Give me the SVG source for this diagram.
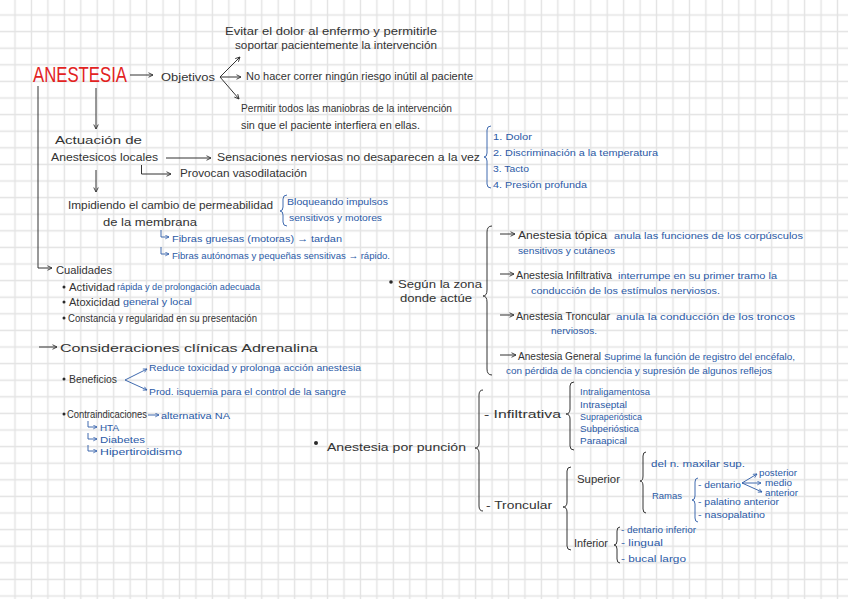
<svg xmlns="http://www.w3.org/2000/svg" width="848" height="599" viewBox="0 0 848 599">
<defs>
<pattern id="grid" x="6.775" y="6.7" width="16.45" height="16.6" patternUnits="userSpaceOnUse">
<path d="M8.225 0V16.6M0 8.3H16.45" stroke="#e3e3e3" stroke-width="1.4" fill="none"/>
</pattern>
<marker id="ah" viewBox="0 0 8 8" refX="7" refY="4" markerWidth="6" markerHeight="6" markerUnits="userSpaceOnUse" orient="auto">
<path d="M1 1L7 4L1 7" fill="none" stroke="#333" stroke-width="1.2"/>
</marker>
<marker id="ahb" viewBox="0 0 8 8" refX="7" refY="4" markerWidth="5" markerHeight="5" markerUnits="userSpaceOnUse" orient="auto">
<path d="M1 1L7 4L1 7" fill="none" stroke="#2b5aa6" stroke-width="1.2"/>
</marker>
</defs>
<style>
text{font-family:"Liberation Sans","DejaVu Sans",sans-serif;}
.k{fill:#333333;font-size:10px;}
.b{fill:#2b5aa6;font-size:9.5px;}
.r{fill:#e2231f;font-size:22px;}
.ln{stroke:#333;stroke-width:1;fill:none;}
.lb{stroke:#2b5aa6;stroke-width:0.9;fill:none;}
.br{stroke:#333;stroke-width:1;fill:none;}
.dot{fill:#2a2a2a;}
</style>
<rect width="848" height="599" fill="#ffffff"/>
<rect width="848" height="599" fill="url(#grid)"/>

<g id="connectors">
<line class="ln" x1="130" y1="75" x2="153" y2="75" marker-end="url(#ah)"/>
<line class="ln" x1="220" y1="77" x2="240" y2="57" marker-end="url(#ah)"/>
<line class="ln" x1="220" y1="77" x2="241" y2="77" marker-end="url(#ah)"/>
<line class="ln" x1="220" y1="77" x2="239" y2="99" marker-end="url(#ah)"/>
<path class="ln" d="M38 86V268H52" marker-end="url(#ah)"/>
<line class="ln" x1="96" y1="88" x2="96" y2="129" marker-end="url(#ah)"/>
<line class="ln" x1="166" y1="158" x2="211" y2="158" marker-end="url(#ah)"/>
<path class="ln" d="M141.5 165V174H171" marker-end="url(#ah)"/>
<line class="ln" x1="96" y1="170" x2="96" y2="192" marker-end="url(#ah)"/>
<path class="lb" d="M161 230V237H169" marker-end="url(#ahb)"/>
<path class="lb" d="M161 247V254H169" marker-end="url(#ahb)"/>
<line class="ln" x1="39" y1="347" x2="57" y2="347" marker-end="url(#ah)"/>
<line class="lb" x1="125" y1="380" x2="147" y2="369" marker-end="url(#ahb)"/>
<line class="lb" x1="125" y1="380" x2="147" y2="390" marker-end="url(#ahb)"/>
<line class="lb" x1="148" y1="415" x2="159" y2="415" marker-end="url(#ahb)"/>
<path class="lb" d="M88 421V427H97" marker-end="url(#ahb)"/>
<path class="lb" d="M88 433V439H97" marker-end="url(#ahb)"/>
<path class="lb" d="M88 445V451H97" marker-end="url(#ahb)"/>
<line class="ln" x1="500" y1="234" x2="515" y2="234" marker-end="url(#ah)"/>
<line class="ln" x1="500" y1="274" x2="514" y2="274" marker-end="url(#ah)"/>
<line class="ln" x1="500" y1="315" x2="514" y2="315" marker-end="url(#ah)"/>
<line class="ln" x1="500" y1="355" x2="516" y2="355" marker-end="url(#ah)"/>
<line class="lb" x1="742" y1="483" x2="757" y2="474" marker-end="url(#ahb)"/>
<line class="lb" x1="742" y1="483" x2="761" y2="483" marker-end="url(#ahb)"/>
<line class="lb" x1="742" y1="483" x2="762" y2="492" marker-end="url(#ahb)"/>
<path class="lb" d="M287 195Q283 195 283 199V207Q283 211 280 211Q283 211 283 215V222Q283 226 287 226"/>
<path class="lb" d="M491 126Q487 126 487 130V153Q487 157 484 157Q487 157 487 161V184Q487 188 491 188"/>
<path class="br" d="M492 226Q487 226 487 232V290Q487 296 483 296Q487 296 487 302V369Q487 375 492 375"/>
<path class="br" d="M483 390Q479 390 479 395V443Q479 448 475 448Q479 448 479 453V506Q479 511 483 511"/>
<path class="br" d="M574 382Q570 382 570 386V409Q570 414 566 414Q570 414 570 419V446Q570 450 574 450"/>
<path class="br" d="M571 467Q567 467 567 471V502Q567 507 563 507Q567 507 567 512V546Q567 550 571 550"/>
<path class="br" d="M646 452Q643 452 643 456V476Q643 481 640 481Q643 481 643 486V509Q643 513 646 513"/>
<path class="lb" d="M698 478Q695 478 695 482V496Q695 500 692 500Q695 500 695 504V518Q695 522 698 522"/>
<path class="br" d="M620 527Q617 527 617 531V541Q617 545 614 545Q617 545 617 549V559Q617 563 620 563"/>
</g>

<g id="anestesia"><text class="r" x="33" y="82" textLength="94" lengthAdjust="spacingAndGlyphs">ANESTESIA</text></g>

<g id="objetivos">
<text class="k" x="161" y="81" font-size="11" textLength="54" lengthAdjust="spacingAndGlyphs">Objetivos</text>
<text class="k" x="225" y="35" textLength="212" lengthAdjust="spacingAndGlyphs">Evitar el dolor al enfermo y permitirle</text>
<text class="k" x="235" y="49" textLength="202" lengthAdjust="spacingAndGlyphs">soportar pacientemente la intervención</text>
<text class="k" x="246" y="80" textLength="227" lengthAdjust="spacingAndGlyphs">No hacer correr ningún riesgo inútil al paciente</text>
<text class="k" x="241" y="112" textLength="211" lengthAdjust="spacingAndGlyphs">Permitir todos las maniobras de la intervención</text>
<text class="k" x="241" y="129" textLength="179" lengthAdjust="spacingAndGlyphs">sin que el paciente interfiera en ellas.</text>
</g>

<g id="actuacion">
<text class="k" x="55" y="144" font-size="12" textLength="87" lengthAdjust="spacingAndGlyphs">Actuación de</text>
<text class="k" x="51" y="161" font-size="11" textLength="107" lengthAdjust="spacingAndGlyphs">Anestesicos locales</text>
<text class="k" x="217" y="161" font-size="11" textLength="263" lengthAdjust="spacingAndGlyphs">Sensaciones nerviosas no desaparecen a la vez</text>
<text class="k" x="180" y="177" font-size="11" textLength="127" lengthAdjust="spacingAndGlyphs">Provocan vasodilatación</text>
<text class="b" x="493" y="140" font-size="11" textLength="39" lengthAdjust="spacingAndGlyphs">1. Dolor</text>
<text class="b" x="493" y="156" font-size="11" textLength="165" lengthAdjust="spacingAndGlyphs">2. Discriminación a la temperatura</text>
<text class="b" x="493" y="172" font-size="11" textLength="36" lengthAdjust="spacingAndGlyphs">3. Tacto</text>
<text class="b" x="493" y="188" font-size="11" textLength="94" lengthAdjust="spacingAndGlyphs">4. Presión profunda</text>
</g>

<g id="impidiendo">
<text class="k" x="68" y="209" font-size="12" textLength="205" lengthAdjust="spacingAndGlyphs">Impidiendo el cambio de permeabilidad</text>
<text class="k" x="103" y="226" font-size="12" textLength="94" lengthAdjust="spacingAndGlyphs">de la membrana</text>
<text class="b" x="287" y="205" textLength="101" lengthAdjust="spacingAndGlyphs">Bloqueando impulsos</text>
<text class="b" x="289" y="221" textLength="93" lengthAdjust="spacingAndGlyphs">sensitivos y motores</text>
<text class="b" x="172" y="242" textLength="170" lengthAdjust="spacingAndGlyphs">Fibras gruesas (motoras) → tardan</text>
<text class="b" x="172" y="259" textLength="218" lengthAdjust="spacingAndGlyphs">Fibras autónomas y pequeñas sensitivas → rápido.</text>
</g>

<g id="cualidades">
<text class="k" x="56" y="274" font-size="11" textLength="56" lengthAdjust="spacingAndGlyphs">Cualidades</text>
<circle class="dot" cx="64" cy="287" r="1.5"/>
<text class="k" x="69" y="291" textLength="46" lengthAdjust="spacingAndGlyphs">Actividad</text>
<text class="b" x="117" y="290" font-size="8.5" textLength="143" lengthAdjust="spacingAndGlyphs">rápida y de prolongación adecuada</text>
<circle class="dot" cx="64" cy="302" r="1.5"/>
<text class="k" x="69" y="306" textLength="51" lengthAdjust="spacingAndGlyphs">Atoxicidad</text>
<text class="b" x="123" y="305" font-size="8.5" textLength="69" lengthAdjust="spacingAndGlyphs">general y local</text>
<circle class="dot" cx="64" cy="318" r="1.5"/>
<text class="k" x="68" y="322" font-size="9" textLength="189" lengthAdjust="spacingAndGlyphs">Constancia y regularidad en su presentación</text>
</g>

<g id="consideraciones">
<text class="k" x="60" y="352" font-size="15" textLength="258" lengthAdjust="spacingAndGlyphs">Consideraciones clínicas Adrenalina</text>
<circle class="dot" cx="64" cy="379" r="1.5"/>
<text class="k" x="69" y="383" font-size="9" textLength="48" lengthAdjust="spacingAndGlyphs">Beneficios</text>
<text class="b" x="149" y="371" textLength="212" lengthAdjust="spacingAndGlyphs">Reduce toxicidad y prolonga acción anestesia</text>
<text class="b" x="149" y="395" textLength="197" lengthAdjust="spacingAndGlyphs">Prod. isquemia para el control de la sangre</text>
<circle class="dot" cx="64" cy="414" r="1.5"/>
<text class="k" x="67" y="418" font-size="9" textLength="80" lengthAdjust="spacingAndGlyphs">Contraindicaciones</text>
<text class="b" x="161" y="419" font-size="11" textLength="69" lengthAdjust="spacingAndGlyphs">alternativa NA</text>
<text class="b" x="100" y="431" textLength="19" lengthAdjust="spacingAndGlyphs">HTA</text>
<text class="b" x="100" y="443" textLength="45" lengthAdjust="spacingAndGlyphs">Diabetes</text>
<text class="b" x="100" y="455" textLength="82" lengthAdjust="spacingAndGlyphs">Hipertiroidismo</text>
</g>

<g id="segun-zona">
<circle class="dot" cx="391" cy="282" r="1.8"/>
<text class="k" x="398" y="288" font-size="12" textLength="84" lengthAdjust="spacingAndGlyphs">Según la zona</text>
<text class="k" x="400" y="302" font-size="12" textLength="72" lengthAdjust="spacingAndGlyphs">donde actúe</text>
<text class="k" x="518" y="239" font-size="11" textLength="89" lengthAdjust="spacingAndGlyphs">Anestesia tópica</text>
<text class="b" x="614" y="239" textLength="189" lengthAdjust="spacingAndGlyphs">anula las funciones de los corpúsculos</text>
<text class="b" x="518" y="254" textLength="97" lengthAdjust="spacingAndGlyphs">sensitivos y cutáneos</text>
<text class="k" x="516" y="279" font-size="11" textLength="96" lengthAdjust="spacingAndGlyphs">Anestesia Infiltrativa</text>
<text class="b" x="618" y="279" textLength="159" lengthAdjust="spacingAndGlyphs">interrumpe en su primer tramo la</text>
<text class="b" x="531" y="294" textLength="189" lengthAdjust="spacingAndGlyphs">conducción de los estímulos nerviosos.</text>
<text class="k" x="516" y="320" font-size="11" textLength="94" lengthAdjust="spacingAndGlyphs">Anestesia Troncular</text>
<text class="b" x="616" y="320" textLength="179" lengthAdjust="spacingAndGlyphs">anula la conducción de los troncos</text>
<text class="b" x="551" y="334" textLength="46" lengthAdjust="spacingAndGlyphs">nerviosos.</text>
<text class="k" x="518" y="360" font-size="11" textLength="83" lengthAdjust="spacingAndGlyphs">Anestesia General</text>
<text class="b" x="604" y="360" textLength="191" lengthAdjust="spacingAndGlyphs">Suprime la función de registro del encéfalo,</text>
<text class="b" x="506" y="374" textLength="266" lengthAdjust="spacingAndGlyphs">con pérdida de la conciencia y supresión de algunos reflejos</text>
</g>

<g id="puncion">
<circle class="dot" cx="316" cy="443" r="2"/>
<text class="k" x="327" y="451" font-size="13" textLength="139" lengthAdjust="spacingAndGlyphs">Anestesia por punción</text>
<text class="k" x="484" y="418" font-size="13" textLength="77" lengthAdjust="spacingAndGlyphs">- Infiltrativa</text>
<text class="b" x="580" y="395" font-size="10" textLength="70" lengthAdjust="spacingAndGlyphs">Intraligamentosa</text>
<text class="b" x="580" y="408" font-size="10" textLength="47" lengthAdjust="spacingAndGlyphs">Intraseptal</text>
<text class="b" x="580" y="420" font-size="10" textLength="62" lengthAdjust="spacingAndGlyphs">Supraperióstica</text>
<text class="b" x="580" y="432" font-size="10" textLength="59" lengthAdjust="spacingAndGlyphs">Subperióstica</text>
<text class="b" x="580" y="444" font-size="10" textLength="47" lengthAdjust="spacingAndGlyphs">Paraapical</text>
<text class="k" x="486" y="509" font-size="13" textLength="66" lengthAdjust="spacingAndGlyphs">- Troncular</text>
<text class="k" x="577" y="483" font-size="12" textLength="43" lengthAdjust="spacingAndGlyphs">Superior</text>
<text class="b" x="651" y="467" font-size="11" textLength="94" lengthAdjust="spacingAndGlyphs">del n. maxilar sup.</text>
<text class="b" x="652" y="499" font-size="10" textLength="30" lengthAdjust="spacingAndGlyphs">Ramas</text>
<text class="b" x="698" y="488" textLength="43" lengthAdjust="spacingAndGlyphs">- dentario</text>
<text class="b" x="759" y="476" font-size="6.5" textLength="38" lengthAdjust="spacingAndGlyphs">posterior</text>
<text class="b" x="765" y="486" font-size="6.5" textLength="27" lengthAdjust="spacingAndGlyphs">medio</text>
<text class="b" x="765" y="496" font-size="6.5" textLength="33" lengthAdjust="spacingAndGlyphs">anterior</text>
<text class="b" x="698" y="505" textLength="81" lengthAdjust="spacingAndGlyphs">- palatino anterior</text>
<text class="b" x="698" y="518" textLength="67" lengthAdjust="spacingAndGlyphs">- nasopalatino</text>
<text class="k" x="574" y="547" font-size="12" textLength="34" lengthAdjust="spacingAndGlyphs">Inferior</text>
<text class="b" x="621" y="533" textLength="75" lengthAdjust="spacingAndGlyphs">- dentario inferior</text>
<text class="b" x="621" y="546" textLength="42" lengthAdjust="spacingAndGlyphs">- lingual</text>
<text class="b" x="621" y="562" textLength="65" lengthAdjust="spacingAndGlyphs">- bucal largo</text>
</g>
</svg>
